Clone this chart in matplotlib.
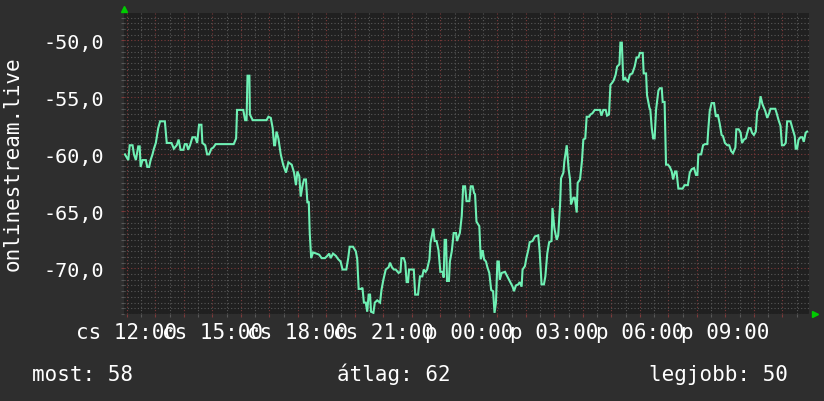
import matplotlib
matplotlib.use("Agg")
import matplotlib.pyplot as plt
from matplotlib.ticker import MultipleLocator

# minutes since cs 12:00 and the value at that moment
minutes = [
    -4, 3, 6, 12, 15, 19, 24, 27, 29, 33, 40, 43, 47, 50, 54, 57, 61, 66, 70, 80,
    84, 94, 99, 105, 109, 113, 119, 122, 126, 129, 133, 138, 144, 148, 152, 157, 159, 165, 169, 173,
    178, 182, 187, 225, 230, 232, 245, 249, 252, 254, 258, 259, 265, 294, 298, 303, 307, 310, 312, 315,
    319, 324, 329, 335, 340,
    347, 352, 356, 359, 363, 366, 370, 373, 377, 380, 383, 385, 388, 392, 399, 405, 410, 417, 422, 426,
    429, 434, 440, 445, 450, 454, 462, 466, 469, 476, 482, 485, 488, 493, 496, 499, 503, 506, 509, 512,
    514, 519, 522, 527, 533, 536, 540, 545, 551, 554, 558, 562, 566, 572, 576, 578, 583, 586, 589, 592,
    594, 604, 607, 613, 617, 622, 625, 629, 632, 637, 639, 645, 648, 652, 656, 660, 665, 667, 669, 672,
    674, 678, 680, 684, 688, 693, 695, 701, 705, 708,
    712, 715, 721, 724, 728, 731, 733, 736, 742, 745, 749, 752, 756, 759, 763, 767, 771, 774, 777, 780,
    783, 785, 789, 796, 801, 806, 812, 815, 819, 824, 827, 831, 833, 838, 841, 845, 848, 854, 859, 866,
    869, 873, 878, 881, 885, 889, 894, 896, 900, 905, 908, 912, 914, 919, 921, 926, 930, 933, 935, 940,
    943, 947, 949, 954, 958, 961, 965, 968, 973, 976, 980, 985, 996, 999, 1003, 1008, 1011, 1015, 1018, 1022,
    1025, 1029, 1032, 1037, 1039, 1042, 1045, 1049, 1052, 1055,
    1059, 1064, 1069, 1073, 1077, 1080, 1086, 1088, 1093, 1095, 1100, 1102, 1105, 1108, 1111, 1114, 1116, 1119, 1122, 1126,
    1128, 1132, 1135, 1139, 1143, 1147, 1150, 1154, 1157, 1161, 1170, 1174, 1181, 1185, 1189, 1194, 1198, 1201, 1203, 1209,
    1213, 1217, 1222, 1224, 1227, 1231, 1236, 1240, 1244, 1248, 1252, 1255, 1259, 1264, 1268, 1272, 1276, 1281, 1283, 1288,
    1292, 1295, 1299, 1303, 1306, 1309, 1313, 1316, 1320, 1324, 1327, 1331, 1334, 1338, 1341, 1344, 1348, 1352, 1355, 1365,
    1368, 1372, 1376, 1379, 1383, 1387, 1390, 1397, 1401, 1406, 1408, 1411, 1414, 1418, 1422, 1425, 1429, 1432,
]
values = [
    -60.0, -60.5, -59.2, -59.2, -60.0, -60.5, -59.3, -59.3, -61.1, -60.5, -60.5, -61.1, -61.1, -60.5, -60.0, -59.5, -59.0, -57.7, -57.1, -57.1,
    -59.0, -59.0, -59.5, -59.2, -58.7, -59.6, -59.6, -59.1, -59.1, -59.6, -59.2, -58.5, -58.5, -59.0, -57.4, -57.4, -59.0, -59.2, -60.0, -60.0,
    -59.5, -59.4, -59.1, -59.1, -58.6, -56.1, -56.1, -57.0, -57.0, -53.1, -53.1, -56.5, -57.0, -57.0, -56.7, -56.8, -57.7, -59.2, -59.2, -58.0,
    -58.6, -60.0, -60.9, -61.6, -60.7,
    -60.9, -61.6, -62.7, -61.5, -61.9, -63.7, -62.7, -62.2, -62.2, -64.2, -64.2, -66.9, -69.1, -68.6, -68.7, -68.8, -69.1, -69.1, -68.9, -68.7,
    -69.1, -68.7, -68.9, -69.2, -69.4, -70.1, -70.1, -69.1, -68.1, -68.1, -68.5, -69.2, -71.8, -71.8, -71.7, -73.0, -73.0, -73.8, -72.3, -72.3,
    -73.8, -73.9, -73.0, -72.8, -73.0, -71.9, -71.0, -70.1, -69.9, -69.5, -69.9, -70.1, -70.1, -70.4, -70.3, -69.1, -69.1, -69.5, -71.2, -71.2,
    -70.1, -70.1, -72.3, -72.3, -70.7, -70.7, -70.1, -70.3, -70.1, -69.2, -67.8, -66.5, -67.6, -67.6, -68.4, -70.3, -70.3, -70.8, -67.5, -67.5,
    -71.1, -71.1, -69.4, -68.5, -66.9, -66.9, -67.6, -66.9, -65.4, -62.8,
    -62.8, -64.1, -64.1, -62.8, -62.8, -63.4, -63.5, -65.9, -66.3, -69.2, -68.4, -69.2, -69.4, -69.9, -70.4, -71.9, -72.0, -73.9, -73.0, -69.4,
    -69.4, -71.0, -70.4, -70.3, -70.7, -71.1, -71.6, -72.0, -71.5, -71.4, -71.2, -71.6, -70.1, -69.8, -69.1, -68.4, -67.7, -67.6, -67.2, -67.1,
    -68.5, -71.4, -71.4, -70.7, -68.7, -67.7, -67.6, -64.7, -66.5, -67.5, -67.1, -64.4, -62.1, -61.6, -60.6, -59.2, -61.3, -62.2, -64.4, -63.8,
    -63.8, -65.1, -62.5, -62.2, -60.6, -58.7, -58.6, -56.7, -56.7, -56.5, -56.4, -56.1, -56.1, -56.6, -56.1, -56.1, -56.6, -56.5, -53.9, -53.7,
    -53.5, -53.0, -52.3, -52.1, -50.2, -50.2, -53.5, -53.3, -53.5, -53.6,
    -53.0, -52.9, -52.3, -51.5, -51.5, -51.1, -51.1, -52.9, -52.9, -54.8, -55.9, -56.1, -57.7, -58.6, -58.6, -56.1, -55.4, -54.4, -54.2, -54.2,
    -55.4, -55.4, -60.9, -60.9, -61.1, -61.5, -62.2, -61.5, -61.5, -63.0, -63.0, -62.7, -62.7, -61.6, -61.3, -61.2, -61.8, -61.8, -60.0, -60.0,
    -59.2, -59.1, -59.1, -57.8, -56.2, -55.5, -55.5, -56.7, -56.5, -57.3, -58.3, -58.4, -59.0, -59.2, -59.2, -59.7, -59.9, -59.4, -57.8, -57.8,
    -58.1, -59.0, -58.7, -58.6, -58.1, -57.7, -57.7, -58.1, -58.3, -58.0, -56.2, -55.9, -54.9, -55.6, -55.9, -56.2, -56.8, -56.4, -56.0, -56.0,
    -56.4, -57.0, -57.5, -59.2, -59.2, -59.0, -57.1, -57.1, -57.7, -58.4, -59.5, -59.5, -58.7, -58.5, -58.5, -58.9, -58.1, -58.0,
]

x_tick_pos = [0, 180, 360, 540, 720, 900, 1080, 1260]
x_tick_labels = ["cs 12:00", "cs 15:00", "cs 18:00", "cs 21:00",
                 "p 00:00", "p 03:00", "p 06:00", "p 09:00"]
y_tick_pos = [-70, -65, -60, -55, -50]
y_tick_labels = ["-70,0", "-65,0", "-60,0", "-55,0", "-50,0"]

bg = "#2e2e2e"
canvas = "#202020"
fg = "#ffffff"
line_col = "#6ff0b4"
minor_col = "#585858"
major_col = "#7c3a3a"
font = "DejaVu Sans Mono"

fig = plt.figure(figsize=(8.24, 4.02), dpi=100, facecolor=bg)
ax = fig.add_axes([124 / 824, 1 - 315 / 402, 685 / 824, 301 / 402])
ax.set_facecolor(canvas)

ax.plot(minutes, values, color=line_col, lw=1.5, solid_joinstyle="miter")

ax.set_xlim(-6, 1436)
ax.set_ylim(-74.0, -47.6)

# grid: grey dotted minors, red dotted majors
ax.xaxis.set_minor_locator(MultipleLocator(30))
ax.yaxis.set_minor_locator(MultipleLocator(0.5))
ax.grid(which="minor", color=minor_col, ls=(0, (1, 2)), lw=0.8)
ax.set_xticks(range(0, 1440, 60), minor=False)
ax.grid(which="major", color=major_col, ls=(0, (1, 2)), lw=0.8)
ax.set_axisbelow(True)

ax.set_xticks(range(0, 1440, 60))
ax.set_xticklabels([x_tick_labels[x_tick_pos.index(t)] if t in x_tick_pos else "" for t in range(0, 1440, 60)])
ax.set_yticks(y_tick_pos)
ax.set_yticklabels(y_tick_labels)

ax.tick_params(which="both", colors=minor_col, length=2, width=0.8)
ax.tick_params(which="major", colors=major_col)
ax.tick_params(axis="x", labelcolor=fg, labelsize=15, pad=4)
ax.tick_params(axis="y", labelcolor=fg, labelsize=14.5, pad=12)
for lab in ax.get_xticklabels() + ax.get_yticklabels():
    lab.set_family(font)

for s in ax.spines.values():
    s.set_visible(False)

# little green arrow heads at the axis ends
ax.plot([0], [1.013], marker="^", ms=4, color="#00cc00", transform=ax.transAxes, clip_on=False)
ax.plot([1.009], [0], marker=">", ms=4, color="#00cc00", transform=ax.transAxes, clip_on=False)

fig.text(13 / 824, 1 - 163.5 / 402, "onlinestream.live", rotation=90, ha="center", va="center",
         color=fg, fontsize=15, family=font)

leg_y = 1 - 381 / 402
fig.text(32 / 824, leg_y, "most: 58", color=fg, fontsize=15, family=font, va="baseline")
fig.text(337 / 824, leg_y, "átlag: 62", color=fg, fontsize=15, family=font, va="baseline")
fig.text(649 / 824, leg_y, "legjobb: 50", color=fg, fontsize=15, family=font, va="baseline")

fig.savefig("out.png", dpi=100, facecolor=bg)
